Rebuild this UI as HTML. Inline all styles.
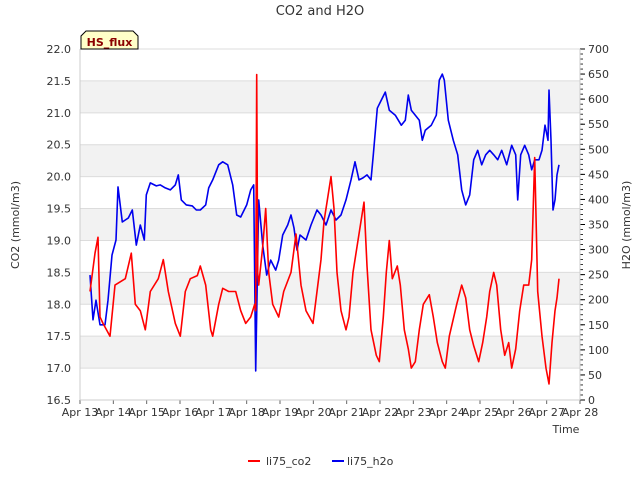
<!DOCTYPE html>
<html><head><meta charset="utf-8"><style>
body{margin:0;background:#fff;font-family:"Liberation Sans","DejaVu Sans",sans-serif}
svg text{font-family:"DejaVu Sans","Liberation Sans",sans-serif;fill:#333}
</style></head><body>
<svg id="c" width="640" height="480"></svg>
<script>
const xTickLabels=["Apr 13","Apr 14","Apr 15","Apr 16","Apr 17","Apr 18","Apr 19","Apr 20","Apr 21","Apr 22","Apr 23","Apr 24","Apr 25","Apr 26","Apr 27","Apr 28"];
const leftTicks=[16.5,17.0,17.5,18.0,18.5,19.0,19.5,20.0,20.5,21.0,21.5,22.0];
const rightTicks=[0,50,100,150,200,250,300,350,400,450,500,550,600,650,700];
const co2Days=[0.30,0.45,0.54,0.60,0.69,0.90,1.05,1.36,1.54,1.66,1.81,1.96,2.11,2.35,2.50,2.65,2.86,3.01,3.16,3.31,3.52,3.61,3.77,3.92,3.98,4.16,4.28,4.46,4.67,4.82,4.97,5.12,5.24,5.27,5.30,5.33,5.36,5.48,5.57,5.66,5.78,5.96,6.11,6.33,6.48,6.63,6.78,6.99,7.11,7.23,7.32,7.41,7.53,7.62,7.71,7.83,7.98,8.07,8.19,8.31,8.43,8.52,8.61,8.73,8.89,8.98,9.10,9.19,9.28,9.37,9.52,9.61,9.73,9.85,9.94,10.06,10.18,10.30,10.48,10.60,10.72,10.87,10.96,11.08,11.30,11.45,11.57,11.69,11.81,11.96,12.08,12.20,12.29,12.41,12.50,12.62,12.74,12.86,12.95,13.07,13.19,13.31,13.46,13.55,13.64,13.73,13.86,13.98,14.07,14.16,14.25,14.31,14.37];
const co2Vals=[18.2,18.8,19.05,17.8,17.7,17.5,18.3,18.4,18.8,18.0,17.9,17.6,18.2,18.4,18.7,18.2,17.7,17.5,18.2,18.4,18.45,18.6,18.3,17.6,17.5,18.0,18.25,18.2,18.2,17.9,17.7,17.8,18.0,17.9,21.6,18.5,18.3,18.9,19.5,18.5,18.0,17.8,18.2,18.5,19.1,18.3,17.9,17.7,18.2,18.7,19.3,19.6,20.0,19.5,18.5,17.9,17.6,17.8,18.5,18.9,19.3,19.6,18.6,17.6,17.2,17.1,17.8,18.5,19.0,18.4,18.6,18.3,17.6,17.3,17.0,17.1,17.6,18.0,18.15,17.8,17.4,17.1,17.0,17.5,18.0,18.3,18.1,17.6,17.35,17.1,17.4,17.8,18.2,18.5,18.3,17.6,17.2,17.4,17.0,17.3,17.9,18.3,18.3,18.7,20.3,18.2,17.5,17.0,16.75,17.4,17.9,18.1,18.4];
const h2oDays=[0.30,0.39,0.48,0.60,0.75,0.84,0.96,1.08,1.14,1.27,1.45,1.57,1.69,1.81,1.93,1.99,2.11,2.29,2.41,2.56,2.71,2.86,2.95,3.04,3.19,3.37,3.49,3.61,3.77,3.86,3.98,4.16,4.28,4.43,4.58,4.70,4.82,5.00,5.12,5.21,5.27,5.36,5.48,5.60,5.72,5.87,5.96,6.08,6.23,6.33,6.42,6.51,6.60,6.78,6.93,7.11,7.23,7.38,7.53,7.68,7.83,7.98,8.13,8.25,8.37,8.49,8.61,8.73,8.80,8.92,9.04,9.16,9.28,9.46,9.64,9.76,9.85,9.94,10.06,10.18,10.27,10.36,10.54,10.69,10.78,10.87,10.93,11.05,11.20,11.33,11.45,11.57,11.69,11.81,11.93,12.05,12.17,12.29,12.41,12.53,12.65,12.80,12.95,13.07,13.13,13.22,13.34,13.46,13.55,13.64,13.77,13.86,13.95,14.04,14.07,14.13,14.19,14.25,14.31,14.37];
const h2oVals=[249,160,199,150,150,199,289,319,425,355,363,379,309,349,319,409,433,427,429,423,419,429,449,399,389,387,379,379,389,423,439,469,475,469,429,369,365,389,419,429,58,399,309,249,279,259,279,329,349,369,343,299,329,319,349,379,369,349,379,359,369,399,439,475,439,443,449,439,489,582,598,614,578,568,548,558,608,578,568,558,518,538,548,568,638,650,638,558,518,489,419,389,409,479,498,469,489,498,489,479,498,469,508,489,399,489,508,489,459,479,479,498,548,518,618,518,379,399,449,469];

const NS="http://www.w3.org/2000/svg",svg=document.getElementById('c');
const L=80,R=580,T=49,B=400;
const xs=d=>L+(R-L)*d/15;
const yl=v=>B-(v-16.5)/5.5*(B-T);
const yr=v=>B-v/700*(B-T);
function mk(tag,attrs,parent){const e=document.createElementNS(NS,tag);for(const k in attrs)e.setAttribute(k,attrs[k]);(parent||svg).appendChild(e);return e;}
// bands
for(let i=0;i<leftTicks.length-1;i++){
 if(i%2===1){const r=mk('rect',{x:L,y:yl(leftTicks[i+1]),width:R-L,height:yl(leftTicks[i])-yl(leftTicks[i+1]),fill:'#f2f2f2'});
 
 }
}
leftTicks.forEach(v=>{const y=yl(v);
 const g=mk('line',{x1:L,x2:R,y1:y,y2:y,stroke:'#dcdcdc','stroke-width':1});
 
 
 const t=mk('text',{x:L-9,y:y+4,'text-anchor':'end','font-size':11});t.textContent=v.toFixed(1);
 
 });
rightTicks.forEach(v=>{const y=yr(v);
 mk('line',{x1:R,x2:R+5,y1:y,y2:y,stroke:'#000'});
 const t=mk('text',{x:R+8,y:y+4,'font-size':11});t.textContent=v;
 
 });
for(let v=0;v<=700;v+=10)mk('line',{x1:R,x2:R+3,y1:yr(v),y2:yr(v),stroke:'#000','stroke-width':0.8});
xTickLabels.forEach((s,i)=>{const x=xs(i);
 mk('line',{x1:x,x2:x,y1:B,y2:B+4,stroke:'#666'});
 const t=mk('text',{x:x,y:B+16,'text-anchor':'middle','font-size':11});t.textContent=s;
 
 });
mk('line',{x1:L,x2:L,y1:T,y2:B,stroke:'#ccc'});
mk('line',{x1:R,x2:R,y1:T,y2:B,stroke:'#ccc'});
mk('line',{x1:L,x2:R,y1:B,y2:B,stroke:'#ccc'});
function path(days,vals,yf,col,name){
 const d=days.map((t,i)=>(i?'L':'M')+xs(t).toFixed(1)+','+yf(vals[i]).toFixed(1)).join('');
 const p=mk('path',{d:d,fill:'none',stroke:col,'stroke-width':1.6,'stroke-linejoin':'round'});
 
 }
path(h2oDays,h2oVals,yr,'#0000ee','h2o-line');
path(co2Days,co2Vals,yl,'#ff0000','co2-line');
function txt(s,a,name){const t=mk('text',a);t.textContent=s;
 
 return t;}
txt('CO2 and H2O',{x:320,y:15,'text-anchor':'middle','font-size':13},'chart-title');
txt('Time',{x:566,y:433,'text-anchor':'middle','font-size':11},'x-axis-title');
txt('CO2 (mmol/m3)',{x:19,y:225,'text-anchor':'middle','font-size':11,transform:'rotate(-90 19 225)'},'left-axis-title');
txt('H2O (mmol/m3)',{x:630,y:225,'text-anchor':'middle','font-size':11,transform:'rotate(-90 630 225)'},'right-axis-title');
// badge
const bp=mk('path',{d:'M81,49 L81,36 L86,31 L133,31 L138,36 L138,49 Z',fill:'#ffffc8',stroke:'#000','stroke-width':1});


const bt=txt('HS_flux',{x:109.5,y:46,'text-anchor':'middle','font-size':11,'font-weight':'bold'},'site-badge-label');bt.style.fill='#8b0000';
// legend
mk('line',{x1:248,x2:260,y1:461,y2:461,stroke:'#ff0000','stroke-width':2});
txt('li75_co2',{x:266,y:465,'font-size':11},'legend-co2');
mk('line',{x1:332,x2:344,y1:461,y2:461,stroke:'#0000ee','stroke-width':2});
txt('li75_h2o',{x:347,y:465,'font-size':11},'legend-h2o');
</script>
</body></html>
